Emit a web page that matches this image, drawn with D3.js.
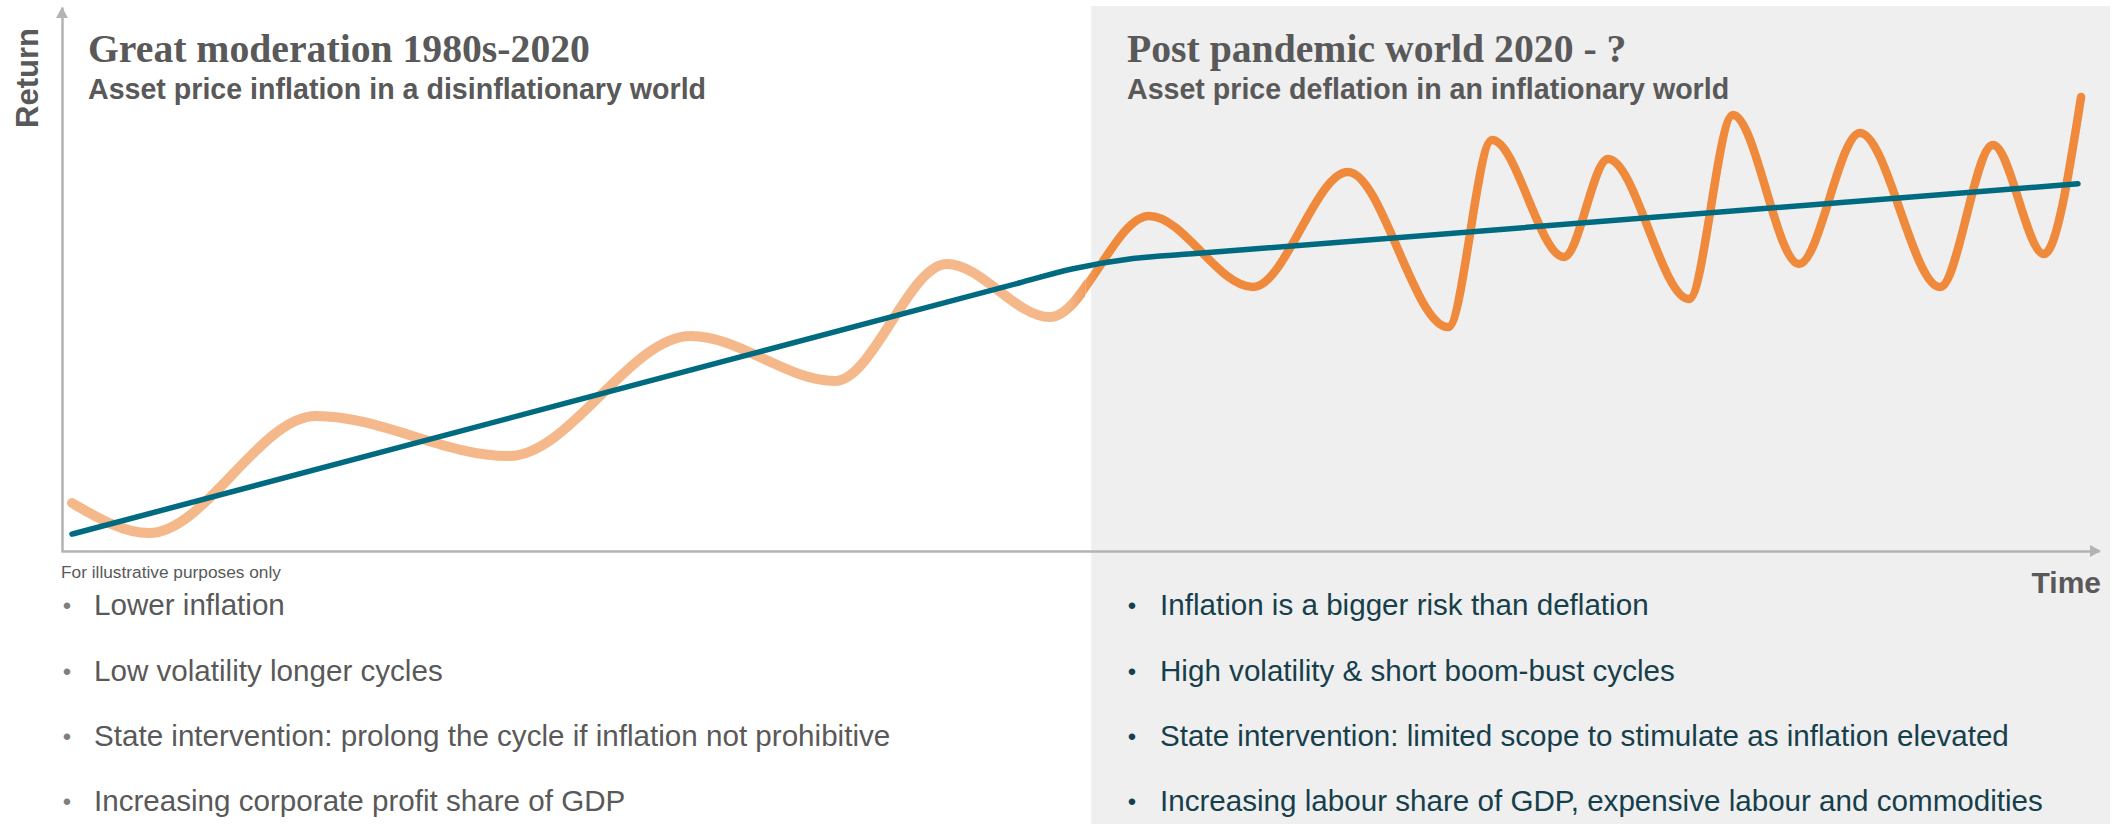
<!DOCTYPE html>
<html>
<head>
<meta charset="utf-8">
<script src="https://cdn.jsdelivr.net/npm/d3@7"></script>
<style>
  html, body { margin: 0; padding: 0; background: #ffffff; }
  svg { display: block; }
</style>
</head>
<body>
<svg id="chart" width="2123" height="824"></svg>
<script>
// ---------- DATA ----------
// Orange "asset return" cycle: turning points (time units 0-100, return units 0-100)
const cycleTime   = [0.54, 4.32, 12.51, 21.98, 30.91, 37.98, 43.47, 48.53,
                     53.39, 58.49, 63.15, 68.06, 70.22, 73.75, 75.91, 79.88, 82.04, 85.28, 88.27, 92.20, 94.80, 97.30, 99.12];
const cycleReturn = [8.82, 3.31, 24.82, 17.46, 39.52, 31.25, 52.76, 43.01,
                     61.58, 48.53, 69.67, 41.18, 75.55, 54.04, 72.06, 46.32, 80.15, 52.76, 76.84, 48.53, 74.63, 54.60, 83.46];
// Teal trend line
const trendTime   = [0.54, 25, 47, 49.6, 52.6, 55.5, 98.97];
const trendReturn = [3.1, 27.4, 49.26, 51.84, 53.77, 54.63, 67.5];
// Regime split (time)
const regimeSplit = 50.55;

const axisLabels = { y: "Return", x: "Time" };
const leftTitle = "Great moderation 1980s-2020";
const leftSubtitle = "Asset price inflation in a disinflationary world";
const rightTitle = "Post pandemic world 2020 - ?";
const rightSubtitle = "Asset price deflation in an inflationary world";
const note = "For illustrative purposes only";
const leftBullets = [
  "Lower inflation",
  "Low volatility longer cycles",
  "State intervention: prolong the cycle if inflation not prohibitive",
  "Increasing corporate profit share of GDP"
];
const rightBullets = [
  "Inflation is a bigger risk than deflation",
  "High volatility & short boom-bust cycles",
  "State intervention: limited scope to stimulate as inflation elevated",
  "Increasing labour share of GDP, expensive labour and commodities"
];

// ---------- LAYOUT ----------
const W = 2123, H = 824;
const svg = d3.select("#chart");
const x = d3.scaleLinear().domain([0, 100]).range([61, 2099]);
const y = d3.scaleLinear().domain([0, 100]).range([551, 7]);

const grey = "#595959";
const axisCol = "#b3b3b3";
const splitX = x(regimeSplit);

// shaded post-pandemic panel
svg.append("rect")
  .attr("x", splitX).attr("y", 6)
  .attr("width", 2110 - splitX).attr("height", H - 6)
  .attr("fill", "#efefef");

// axes (no ticks)
const gx = svg.append("g").attr("transform", `translate(0,${y(0)})`)
  .call(d3.axisBottom(x).tickValues([]).tickSizeOuter(0));
const gy = svg.append("g").attr("transform", `translate(${x(0) + 1},0)`)
  .call(d3.axisLeft(y).tickValues([]).tickSizeOuter(0));
[gx, gy].forEach(g => g.select(".domain").attr("stroke", axisCol).attr("stroke-width", 2.5));

// arrow heads
svg.append("path")
  .attr("d", `M${x(0) + 1},${y(100)} L${x(0) - 5},${y(100) + 11} L${x(0) + 7},${y(100) + 11} Z`)
  .attr("fill", axisCol);
svg.append("path")
  .attr("d", `M${x(100) + 2},${y(0)} L${x(100) - 9},${y(0) - 6} L${x(100) - 9},${y(0) + 6} Z`)
  .attr("fill", axisCol);

// gradient for the cycle line
const defs = svg.append("defs");
const grad = defs.append("linearGradient").attr("id", "og")
  .attr("gradientUnits", "userSpaceOnUse")
  .attr("x1", splitX - 24).attr("x2", splitX + 8).attr("y1", 0).attr("y2", 0);
grad.append("stop").attr("offset", 0).attr("stop-color", "#f5b88b");
grad.append("stop").attr("offset", 1).attr("stop-color", "#ef8a3c");
defs.append("clipPath").attr("id", "clipL").append("rect")
  .attr("x", 0).attr("y", 0).attr("width", splitX - 6).attr("height", H);
defs.append("clipPath").attr("id", "clipR").append("rect")
  .attr("x", splitX - 6).attr("y", 0).attr("width", W).attr("height", H);

const cycleData = cycleTime.map((t, i) => [t, cycleReturn[i]]);
const trendData = trendTime.map((t, i) => [t, trendReturn[i]]);
const line = d3.line().x(d => x(d[0])).y(d => y(d[1])).curve(d3.curveMonotoneX);

svg.append("path").datum(cycleData)
  .attr("d", line).attr("fill", "none")
  .attr("stroke", "url(#og)").attr("stroke-width", 10)
  .attr("stroke-linecap", "round").attr("stroke-linejoin", "round")
  .attr("clip-path", "url(#clipL)");
svg.append("path").datum(cycleData)
  .attr("d", line).attr("fill", "none")
  .attr("stroke", "url(#og)").attr("stroke-width", 8.5)
  .attr("stroke-linecap", "round").attr("stroke-linejoin", "round")
  .attr("clip-path", "url(#clipR)");

svg.append("path").datum(trendData)
  .attr("d", line).attr("fill", "none")
  .attr("stroke", "#006b80").attr("stroke-width", 5.5)
  .attr("stroke-linecap", "round");

// ---------- TEXT ----------
svg.append("text").text(axisLabels.y)
  .attr("transform", "translate(38,78) rotate(-90)")
  .attr("text-anchor", "middle")
  .attr("font-family", "Liberation Sans, Arial, sans-serif")
  .attr("font-weight", "bold").attr("font-size", 31).attr("fill", grey);
svg.append("text").text(axisLabels.x)
  .attr("x", 2101).attr("y", 593).attr("text-anchor", "end")
  .attr("font-family", "Liberation Sans, Arial, sans-serif")
  .attr("font-weight", "bold").attr("font-size", 30).attr("fill", grey);

function heading(tx, title, sub) {
  svg.append("text").text(title).attr("x", tx).attr("y", 62)
    .attr("font-family", "Liberation Serif, Times New Roman, serif")
    .attr("font-weight", "bold").attr("font-size", 39.7).attr("fill", grey);
  svg.append("text").text(sub).attr("x", tx).attr("y", 99)
    .attr("font-family", "Liberation Sans, Arial, sans-serif")
    .attr("font-weight", "bold").attr("font-size", 28.6).attr("fill", grey);
}
heading(88, leftTitle, leftSubtitle);
heading(1127, rightTitle, rightSubtitle);

svg.append("text").text(note).attr("x", 61).attr("y", 578)
  .attr("font-family", "Liberation Sans, Arial, sans-serif")
  .attr("font-size", 17.3).attr("fill", grey);

const rowY = [615, 681, 746, 811];
function bullets(list, dotX, textX, color) {
  const g = svg.append("g");
  list.forEach((s, i) => {
    g.append("text").text("•").attr("x", dotX).attr("y", rowY[i] - 1)
      .attr("text-anchor", "middle")
      .attr("font-family", "Liberation Sans, Arial, sans-serif")
      .attr("font-size", 24).attr("fill", color === grey ? "#7f7f7f" : color);
    g.append("text").text(s).attr("x", textX).attr("y", rowY[i])
      .attr("font-family", "Liberation Sans, Arial, sans-serif")
      .attr("font-size", 29.6).attr("fill", color);
  });
}
bullets(leftBullets, 67, 94, grey);
bullets(rightBullets, 1132, 1160, "#173f4b");
</script>
</body>
</html>
